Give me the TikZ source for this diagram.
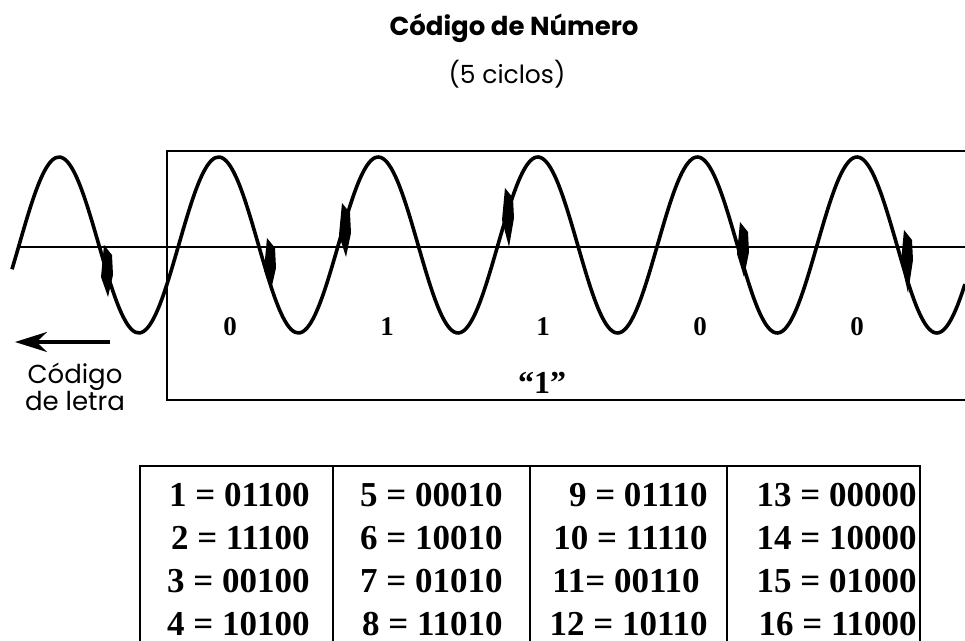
\documentclass[tikz,border=0pt]{standalone}
\usepackage{fontspec}
\setmainfont{Liberation Serif}
\setsansfont{Poppins}
\usepackage{tikz}
\usetikzlibrary{arrows.meta}

\begin{document}
\begin{tikzpicture}[x=0.5pt, y=-0.5pt,
      every node/.style={inner sep=0pt},
      lbl/.style={font=\sffamily\fontsize{12.5}{13.5}\selectfont, align=center},
      bit/.style={font=\bfseries\fontsize{13.5}{15}\selectfont},
      code/.style={font=\bfseries\fontsize{17.5}{20}\selectfont, anchor=east},
      wave/.style={line width=1.8pt, line join=round},
      axis/.style={line width=0.9pt},
      frame/.style={line width=0.7pt},
      arr/.style={-{Stealth[length=16pt, width=10pt]}, line width=1.8pt}
    ]
    \useasboundingbox (0,0) rectangle (965,641);

    % titulo
    \node[lbl, font=\sffamily\bfseries\fontsize{13}{15}\selectfont] (titulo) at (514,28) {Código de Número};
    \node[lbl] (ciclos) at (507,74) {(5 ciclos)};

    % caixa do codigo de numero
    \draw[frame] (965,151) -- (167,151) -- (167,400) -- (480,400);
    \draw[frame, line width=1pt] (480,400) -- (965,400);

    % eixo e onda
    \draw[axis] (18,247) -- (965,247);
    \draw[wave] plot[domain=12:965, samples=240, smooth] (\x, {245 - 88*cos((\x-59)/159.6*360)});

    % marcas de fase
    \foreach \mx/\mt/\mb in {107/245/297, 270/238/290, 345/203/257, 508/188/247, 743/222/277, 907/230/293}
      \fill (\mx-3,\mt) -- (\mx+5,\mt+10) -- (\mx+6,\mt+30) -- (\mx+1,\mb) -- (\mx-6,\mt+32) -- cycle;

    % bits
    \foreach \bx/\bv [count=\i] in {230/0, 387/1, 543/1, 700/0, 857/0}
      \node[bit] (b\i) at (\bx,327) {\bv};
    \node[font=\bfseries\fontsize{16}{18}\selectfont] (um) at (542,383) {“1”};

    % codigo de letra
    \coordinate (ltail) at (110,342);
    \coordinate (lhead) at (15,342);
    \draw[arr] (ltail) -- (lhead);
    \node[lbl, font=\sffamily\fontsize{13}{13.5}\selectfont] (letra) at (75,387) {Código\\de letra};

    % tabela
    \draw[frame] (140,641) -- (140,466) -- (920,466) -- (920,641);
    \foreach \cx in {333, 530, 727}
      \draw[frame] (\cx,466) -- (\cx,641);
    \node[code] (c1)  at (310,495) {1 = 01100};
    \node[code] (c2)  at (310,538) {2 = 11100};
    \node[code] (c3)  at (310,581) {3 = 00100};
    \node[code] (c4)  at (310,624) {4 = 10100};
    \node[code] (c5)  at (503,495) {5 = 00010};
    \node[code] (c6)  at (503,538) {6 = 10010};
    \node[code] (c7)  at (503,581) {7 = 01010};
    \node[code] (c8)  at (503,624) {8 = 11010};
    \node[code] (c9)  at (708,495) {9 = 01110};
    \node[code] (c10) at (708,538) {10 = 11110};
    \node[code] (c11) at (700,581) {11= 00110};
    \node[code] (c12) at (708,624) {12 = 10110};
    \node[code] (c13) at (917,495) {13 = 00000};
    \node[code] (c14) at (917,538) {14 = 10000};
    \node[code] (c15) at (917,581) {15 = 01000};
    \node[code] (c16) at (917,624) {16 = 11000};
  \end{tikzpicture}
\end{document}
